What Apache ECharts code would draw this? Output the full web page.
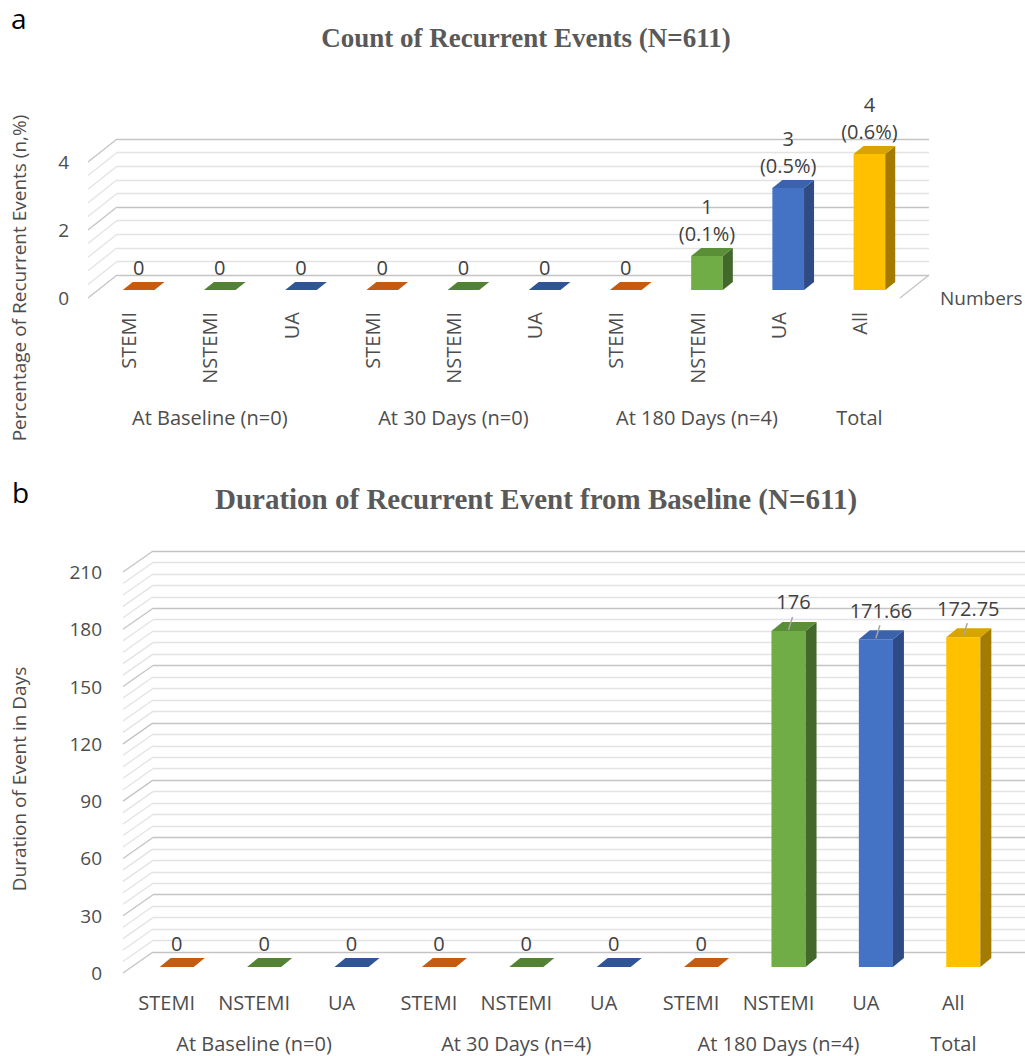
<!DOCTYPE html>
<html>
<head>
<meta charset="utf-8">
<script src="https://cdn.jsdelivr.net/npm/echarts@6/dist/echarts.min.js"></script>
<style>
  html, body { margin: 0; padding: 0; background: #fff; }
  #chart { width: 1025px; height: 1056px; }
</style>
</head>
<body>
<div id="chart"></div>
<script>
// data
const categories = ["STEMI", "NSTEMI", "UA", "STEMI", "NSTEMI", "UA", "STEMI", "NSTEMI", "UA", "All"];
const groupLabelsA = ["", "At Baseline (n=0)", "", "", "At 30 Days (n=0)", "", "", "At 180 Days (n=4)", "", "Total"];
const groupLabelsB = ["", "At Baseline (n=0)", "", "", "At 30 Days (n=4)", "", "", "At 180 Days (n=4)", "", "Total"];
const countValues = [0, 0, 0, 0, 0, 0, 0, 1, 3, 4];
const countPercents = [0, 0, 0, 0, 0, 0, 0, 0.1, 0.5, 0.6];
const durationValues = [0, 0, 0, 0, 0, 0, 0, 176, 171.66, 172.75];

// back wall gridline values (major + minor)
const wallTicksA = [0, 0.4, 0.8, 1.2, 1.6, 2, 2.4, 2.8, 3.2, 3.6, 4];
const wallTicksB = [0, 6, 12, 18, 24, 30, 36, 42, 48, 54, 60, 66, 72, 78, 84, 90, 96, 102, 108, 114,
  120, 126, 132, 138, 144, 150, 156, 162, 168, 174, 180, 186, 192, 198, 204, 210];

const palette = {
  STEMI: { front: "#ED7D31", top: "#C55A11", side: "#AE4F0F", tile: "#C55A11" },
  NSTEMI: { front: "#70AD47", top: "#5A8F37", side: "#43682B", tile: "#548235" },
  UA: { front: "#4472C4", top: "#3A62AD", side: "#2F4B86", tile: "#2F5597" },
  All: { front: "#FFC000", top: "#D9A300", side: "#A37B00", tile: "#BF9000" },
};

const FONT = "Open Sans";
const TXT = "#404040";
const AXTXT = "#4D4D4D";

// panel geometry: bar plane grid, back wall and front plane offsets
const panelA = { left: 98, top: 154, width: 812, height: 136, wall: [19, -15], front: [-10, 8], depth: [10, 8] };
const panelB = { left: 133, top: 566, width: 874, height: 401, wall: [20, -15], front: [-10, 6], depth: [11, 9] };

function gridAt(p, off) {
  return { left: p.left + off[0], top: p.top + off[1], width: p.width, height: p.height, containLabel: false };
}

function barRenderer(depth, labelFor, leader) {
  return function (params, api) {
    const i = api.value(0);
    const v = api.value(1);
    const base = api.coord([i, 0]);
    const top = api.coord([i, v]);
    const w = api.size([1, 0])[0] * 0.39;
    const xl = base[0] - w / 2, xr = base[0] + w / 2;
    const yb = base[1], yt = top[1];
    const dx = depth[0], dy = depth[1];
    const c = palette[categories[i]];
    const children = [];
    if (v > 0) {
      children.push({ type: "rect", shape: { x: xl, y: yt, width: w, height: yb - yt }, style: { fill: c.front } });
      children.push({ type: "polygon", shape: { points: [[xr, yt], [xr + dx, yt - dy], [xr + dx, yb - dy], [xr, yb]] }, style: { fill: c.side } });
    }
    children.push({ type: "polygon", shape: { points: [[xl, yt], [xr, yt], [xr + dx, yt - dy], [xl + dx, yt - dy]] }, style: { fill: v > 0 ? c.top : c.tile } });
    const font = "20px " + FONT;
    if (leader && v > 0) {
      children.push({ type: "line", shape: { x1: base[0], y1: yt - 1, x2: base[0] + 4, y2: yt - dy - 5 }, style: { stroke: "#A6A6A6", lineWidth: 1.5 } });
      children.push({ type: "text", x: base[0] + 5, y: yt - dy - 9, style: { text: labelFor(i, v), fill: TXT, font: font, align: "center", verticalAlign: "bottom", lineHeight: 22 } });
    } else if (leader) {
      children.push({ type: "text", x: base[0], y: yt - dy - 4, style: { text: labelFor(i, v), fill: TXT, font: font, align: "center", verticalAlign: "bottom", lineHeight: 22 } });
    } else {
      children.push({ type: "text", x: base[0], y: yt - dy - 1.5, style: { text: labelFor(i, v), fill: TXT, font: font, align: "center", verticalAlign: "bottom", lineHeight: 27 } });
    }
    return { type: "group", children: children };
  };
}

function wallRenderer(p, major, rightEdge) {
  return function (params, api) {
    const v = api.value(0);
    const cs = params.coordSys;
    const y = api.coord([0, v])[1];
    const fdx = p.front[0] - p.wall[0], fdy = p.front[1] - p.wall[1];
    const col = Math.abs(v / major - Math.round(v / major)) < 1e-6 ? "#C4C4C4" : "#E3E3E3";
    const children = [{ type: "line", shape: { x1: cs.x + fdx, y1: y + fdy, x2: cs.x, y2: y }, style: { stroke: col, lineWidth: 1.3 } }];
    if (rightEdge && v === 0) {
      children.push({ type: "line", shape: { x1: cs.x + cs.width + fdx, y1: y + fdy, x2: cs.x + cs.width, y2: y }, style: { stroke: "#C4C4C4", lineWidth: 1.3 } });
    }
    return { type: "group", children: children };
  };
}

function hiddenCat(gridIndex) {
  return { type: "category", gridIndex: gridIndex, data: categories, show: false };
}
function hiddenVal(gridIndex, max) {
  return { type: "value", gridIndex: gridIndex, min: 0, max: max, show: false, splitLine: { show: false } };
}
function wallVal(gridIndex, max, interval) {
  return {
    type: "value", gridIndex: gridIndex, min: 0, max: max, interval: interval,
    axisLabel: { show: false }, axisLine: { show: false }, axisTick: { show: false },
    splitLine: { show: true, lineStyle: { color: "#C4C4C4", width: 1.3 } },
    minorTick: { show: false, splitNumber: 5 },
    minorSplitLine: { show: true, lineStyle: { color: "#E3E3E3", width: 1.3 } },
  };
}
function frontVal(gridIndex, max, interval, margin) {
  return {
    type: "value", gridIndex: gridIndex, min: 0, max: max, interval: interval,
    axisLine: { show: false }, axisTick: { show: false }, splitLine: { show: false },
    axisLabel: { color: AXTXT, fontFamily: FONT, fontSize: 19, margin: margin },
  };
}

const chart = echarts.init(document.getElementById("chart"), null, { renderer: "svg" });

const option = {
  animation: false,
  backgroundColor: "#fff",
  title: [
    { text: "Count of Recurrent Events (N=611)", left: 521, top: 19, textAlign: "center",
      textStyle: { fontFamily: "Liberation Serif", fontWeight: "bold", fontSize: 27, color: "#595959" } },
    { text: "Duration of Recurrent Event from Baseline (N=611)", left: 531, top: 479, textAlign: "center",
      textStyle: { fontFamily: "Liberation Serif", fontWeight: "bold", fontSize: 29, color: "#595959" } },
  ],
  graphic: [
    { type: "text", left: 11, top: 4, style: { text: "a", font: "28px " + FONT, fill: "#000" } },
    { type: "text", left: 12, top: 478, style: { text: "b", font: "28px " + FONT, fill: "#000" } },
    { type: "text", x: 19, y: 278, rotation: Math.PI / 2,
      style: { text: "Percentage of Recurrent Events (n,%)", font: "19px " + FONT, fill: AXTXT, align: "center", verticalAlign: "middle" } },
    { type: "text", x: 19, y: 779, rotation: Math.PI / 2,
      style: { text: "Duration of Event in Days", font: "19px " + FONT, fill: AXTXT, align: "center", verticalAlign: "middle" } },
  ],
  grid: [
    gridAt(panelA, panelA.wall),
    gridAt(panelA, [0, 0]),
    gridAt(panelA, panelA.front),
    gridAt(panelB, panelB.wall),
    gridAt(panelB, [0, 0]),
    gridAt(panelB, panelB.front),
  ],
  xAxis: [
    hiddenCat(0),
    hiddenCat(1),
    {
      type: "category", gridIndex: 2, data: categories,
      axisLine: { show: false }, axisTick: { show: false },
      axisLabel: { interval: 0, rotate: 90, margin: 14, color: AXTXT, fontFamily: FONT, fontSize: 20 },
      name: "Numbers", nameLocation: "end", nameGap: 40,
      nameTextStyle: { color: AXTXT, fontFamily: FONT, fontSize: 19, padding: [0, 0, 20, 0] },
    },
    {
      type: "category", gridIndex: 2, data: groupLabelsA, position: "bottom",
      axisLine: { show: false }, axisTick: { show: false },
      axisLabel: { interval: 0, margin: 109, color: AXTXT, fontFamily: FONT, fontSize: 20 },
    },
    hiddenCat(3),
    hiddenCat(4),
    {
      type: "category", gridIndex: 5, data: categories,
      axisLine: { show: false }, axisTick: { show: false },
      axisLabel: { interval: 0, margin: 19, color: AXTXT, fontFamily: FONT, fontSize: 20 },
    },
    {
      type: "category", gridIndex: 5, data: groupLabelsB, position: "bottom",
      axisLine: { show: false }, axisTick: { show: false },
      axisLabel: { interval: 0, margin: 60, color: AXTXT, fontFamily: FONT, fontSize: 20 },
    },
  ],
  yAxis: [
    wallVal(0, 4, 2),
    hiddenVal(1, 4),
    frontVal(2, 4, 2, 19),
    wallVal(3, 210, 30),
    hiddenVal(4, 210),
    frontVal(5, 210, 30, 21),
  ],
  series: [
    {
      type: "custom", name: "wallA", xAxisIndex: 0, yAxisIndex: 0, silent: true,
      data: wallTicksA.map((v) => [v]),
      renderItem: wallRenderer(panelA, 2, true),
    },
    {
      type: "custom", name: "Count", xAxisIndex: 1, yAxisIndex: 1,
      data: countValues.map((v, i) => [i, v]),
      renderItem: barRenderer(panelA.depth, (i, v) => (v > 0 ? v + "\n(" + countPercents[i] + "%)" : "0"), false),
    },
    {
      type: "custom", name: "wallB", xAxisIndex: 4, yAxisIndex: 3, silent: true,
      data: wallTicksB.map((v) => [v]),
      renderItem: wallRenderer(panelB, 30, false),
    },
    {
      type: "custom", name: "Duration", xAxisIndex: 5, yAxisIndex: 4,
      data: durationValues.map((v, i) => [i, v]),
      renderItem: barRenderer(panelB.depth, (i, v) => String(v), true),
    },
  ],
};

chart.setOption(option);
</script>
</body>
</html>
